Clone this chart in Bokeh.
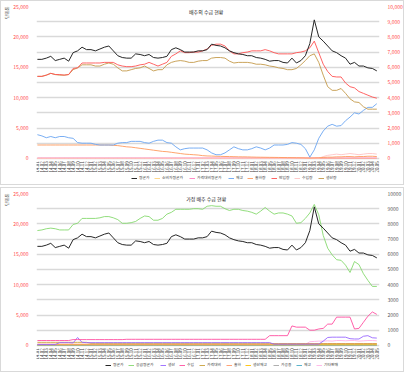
import math
from bokeh.plotting import figure
from bokeh.models import (Range1d, LinearAxis, FixedTicker, Legend, LegendItem,
                          Label, NumeralTickFormatter, Title, ColumnDataSource)
from bokeh.layouts import column
from bokeh.embed import file_html
from bokeh.resources import INLINE
from bokeh.core.properties import value

FONT = "Noto Sans CJK KR"

# ---------------- tick labels (categories) ----------------
months = ["14.01", "14.02", "14.03", "14.04", "14.05", "14.06", "14.07", "14.08", "14.09", "14.10", "14.11", "14.12",
          "15.01", "15.02", "15.03", "15.04", "15.05", "15.06", "15.07", "15.08", "15.09", "15.10", "15.11", "15.12",
          "16.01", "16.02", "16.03", "16.04", "16.05", "16.06", "16.07", "16.08", "16.09", "16.10", "16.11", "16.12",
          "17.01", "17.02", "17.03", "17.04", "17.05", "17.06", "17.07", "17.08", "17.09", "17.10", "17.11", "17.12",
          "18.01", "18.02", "18.03", "18.04", "18.05", "18.06", "18.07", "18.08", "18.09", "18.10", "18.11", "18.12",
          "19.01", "19.02", "19.03", "19.04", "19.05", "19.06", "19.07", "19.08", "19.09", "19.10", "19.11", "19.12",
          "20.01", "20.02", "20.03", "20.04", "20.05"]

# ---------------- chart 1 series ----------------
avg_price = [16300, 16300, 16500, 16800, 16100, 16300, 16500, 16000, 17400, 17700, 18300, 17900, 17900, 17700, 18000, 18300,
             18500, 17700, 16900, 16600, 16500, 16500, 17200, 17100, 16900, 17100, 16600, 16500, 16600, 16800, 17900, 18200,
             17900, 17500, 17500, 17500, 17700, 17700, 17900, 18800, 18600, 18500, 18200, 17700, 17400, 17200, 17100, 16900,
             16900, 16600, 16500, 16300, 16000, 16100, 16100, 15800, 15700, 16500, 15700, 16100, 16900, 18900, 22800, 20000,
             19300, 18500, 17700, 17400, 16900, 16500, 15500, 15800, 15200, 15200, 14900, 14800, 14400]
consumer_avg = [0, 0, 0, 0, 0, 0, 0, 0, 0, 0, 0, 0, 0, 0, 0, 0, 0, 0, 0, 0, 0, 0, 0, 0, 0, 0, 0, 0, 0, 0, 0, 0, 0, 0, 0, 0, 0, 0, 0,
                0, 0, 0, 0, 0, 0, 0, 0, 0, 0, 0, 0, 0, 0, 0, 0, 0, 0, 0, 0, 0, 0, 0, 0, 0, 0, 0, 0, 0, 0, 0, 0, 0, 0, 0, 0, 0, 0]
ratio_avg = [60, 60, 60, 60, 60, 60, 60, 60, 60, 60, 60, 60, 60, 60, 60, 60, 60, 60, 60, 60, 60, 60, 60, 60, 60, 60, 60, 60, 60,
             60, 60, 60, 60, 60, 60, 60, 60, 60, 60, 60, 60, 60, 60, 60, 60, 60, 60, 60, 60, 60, 60, 60, 60, 60, 60, 60, 60, 60,
             60, 60, 60, 60, 60, 60, 60, 60, 60, 60, 60, 60, 60, 60, 60, 60, 60, 60, 60]
stock = [3900, 3700, 3400, 3600, 3400, 3600, 3600, 3400, 3300, 2600, 2500, 2500, 2500, 2300, 2200, 2200, 2200, 2200, 2500, 2600,
         2600, 2800, 2800, 2800, 2600, 2500, 2800, 3000, 3000, 2600, 2500, 1900, 1400, 1600, 1700, 1700, 1700, 1700, 1400, 900,
         600, 600, 900, 1400, 1900, 1600, 1400, 1400, 1600, 1900, 1700, 1400, 1700, 2200, 2200, 2200, 2300, 2600, 2500, 2300,
         1600, 200, 1400, 3300, 4500, 5300, 5600, 5300, 5400, 6200, 6800, 7500, 7300, 7900, 8400, 8400, 9000]
shipment = [2200, 2200, 2200, 2200, 2200, 2200, 2200, 2200, 2200, 2200, 2200, 2200, 2200, 2200, 2200, 2200, 2200, 2150, 2100,
            2000, 1900, 1850, 1750, 1650, 1550, 1450, 1350, 1250, 1150, 1100, 1000, 900, 800, 700, 650, 600, 550, 450, 400,
            380, 350, 330, 310, 300, 280, 260, 250, 240, 220, 200, 190, 180, 170, 160, 150, 140, 130, 120, 110, 100, 80, 60,
            80, 100, 150, 200, 200, 250, 250, 300, 300, 250, 300, 300, 350, 350, 300]
inflow = [13500, 13500, 13700, 14000, 13800, 13800, 13700, 13800, 14800, 14900, 15700, 15700, 15700, 15700, 15700, 15800,
          15800, 15800, 15400, 15200, 15100, 15100, 15200, 15400, 15500, 15800, 15500, 15200, 15500, 15800, 16800, 17200,
          17700, 17400, 17400, 17500, 17500, 17700, 18000, 18600, 18800, 18800, 18500, 17700, 17200, 17200, 17400, 17500,
          17700, 17700, 17700, 17900, 17700, 17400, 17200, 17200, 17200, 17200, 17400, 17500, 17700, 18200, 19300, 17400,
          15500, 14300, 13500, 13400, 13400, 12400, 11800, 11600, 11000, 10700, 10400, 10100, 9900]
imports = [0, 0, 0, 0, 0, 0, 0, 0, 0, 0, 0, 0, 0, 0, 0, 0, 0, 0, 0, 0, 0, 0, 0, 0, 0, 0, 0, 0, 0, 0, 0, 0, 0, 0, 0, 0, 0, 0, 0,
           0, 0, 0, 0, 0, 0, 0, 0, 0, 0, 0, 0, 0, 0, 0, 0, 0, 0, 0, 0, 0, 0, 0, 0, 0, 300, 500, 600, 700, 600, 700, 800, 700,
           600, 700, 800, 800, 700]
production = [13500, 13500, 13700, 14000, 13800, 13700, 13700, 13800, 14600, 14900, 15400, 15400, 15400, 15200, 15200, 15500,
              15700, 15500, 14900, 14400, 14400, 14600, 14800, 14900, 15200, 14800, 14400, 14600, 14600, 15400, 15800, 16000,
              16100, 16000, 15800, 15800, 16000, 16100, 16100, 16500, 16600, 16600, 16500, 16000, 15700, 15800, 15800, 15800,
              15700, 15500, 15500, 15400, 15200, 15100, 14900, 14800, 14600, 14600, 14800, 15400, 16100, 16900, 17200, 15800,
              13700, 11800, 11200, 11200, 11500, 10700, 9800, 9300, 9200, 8500, 8100, 8100, 8100]

# ---------------- chart 2 series ----------------
supply_avg = [18900, 19000, 19200, 19300, 19200, 19000, 19000, 19000, 19900, 20100, 20900, 20900, 20900, 20900, 21000, 21200,
              21200, 21000, 20700, 20100, 20100, 20200, 20400, 20900, 21300, 21200, 20600, 20600, 20900, 21600, 21900, 22400,
              22400, 22400, 22400, 22500, 22500, 22400, 22900, 23000, 22900, 22900, 22500, 22200, 22400, 22400, 22200, 22100,
              21900, 21600, 22100, 22700, 22100, 21600, 21800, 21800, 21600, 21300, 20100, 20200, 20900, 21800, 23200, 21500,
              18100, 16000, 14900, 14100, 14000, 13200, 12000, 13800, 13300, 11800, 10700, 9700, 9700]
produce2 = [150, 150, 150, 150, 150, 450, 450, 450, 400, 1300, 500, 450, 450, 450, 450, 450, 450, 450, 450, 450, 450, 450, 450,
            450, 450, 450, 450, 450, 450, 450, 450, 450, 450, 450, 450, 450, 450, 450, 450, 450, 450, 450, 450, 450, 450, 450,
            450, 450, 450, 450, 450, 450, 450, 200, 200, 200, 200, 200, 200, 200, 200, 200, 200, 200, 700, 1300, 1350, 1350,
            1350, 1350, 1100, 1050, 1050, 1500, 1600, 1250, 1200]
import2 = [800, 800, 800, 800, 800, 800, 800, 800, 950, 950, 950, 950, 950, 950, 950, 950, 950, 950, 950, 950, 1000, 1000, 1000,
           1000, 1000, 1000, 1000, 1000, 1000, 1000, 1000, 1000, 1000, 1000, 1000, 1000, 1000, 1000, 1000, 1000, 1000, 1000,
           1000, 1000, 1000, 1000, 1000, 1000, 1000, 1000, 1000, 1000, 1600, 1600, 1600, 1600, 1600, 3200, 3000, 3000, 3000,
           2500, 2500, 2700, 2800, 3500, 3500, 4650, 4650, 4650, 4650, 2700, 2800, 3800, 4800, 5500, 5100]
ratio2 = [500, 500, 500, 500, 500, 500, 500, 500, 500, 500, 500, 500, 350, 350, 350, 350, 350, 350, 350, 350, 350, 350, 350, 350,
          350, 350, 350, 350, 350, 350, 350, 350, 350, 350, 350, 350, 350, 350, 350, 350, 350, 350, 350, 350, 350, 350, 350,
          350, 350, 350, 350, 350, 350, 250, 250, 250, 250, 250, 250, 250, 250, 250, 250, 250, 250, 250, 250, 250, 250, 250,
          250, 250, 250, 250, 250, 250, 250]
ship2 = [200, 200, 200, 200, 200, 200, 200, 200, 200, 200, 200, 200, 200, 200, 200, 200, 200, 200, 200, 200, 200, 200, 200, 200,
         200, 200, 200, 200, 200, 200, 200, 200, 200, 200, 200, 200, 200, 200, 200, 200, 200, 200, 200, 200, 200, 200, 200, 200,
         200, 200, 200, 200, 200, 300, 300, 300, 300, 300, 300, 300, 300, 300, 300, 300, 300, 300, 300, 300, 300, 300, 300, 300,
         300, 300, 300, 300, 300]
stock_prod2 = [100, 100, 100, 100, 100, 100, 100, 100, 100, 100, 100, 100, 100, 100, 100, 100, 100, 100, 100, 100, 100, 100, 100,
               100, 100, 100, 100, 100, 100, 100, 100, 100, 100, 100, 100, 100, 100, 100, 100, 100, 100, 100, 100, 100, 100, 100,
               100, 100, 100, 100, 100, 100, 100, 100, 100, 100, 100, 100, 100, 100, 100, 100, 100, 100, 100, 100, 100, 100, 100,
               100, 100, 100, 100, 100, 100, 100, 100]
process2 = [50, 50, 50, 50, 50, 50, 50, 50, 50, 50, 50, 50, 50, 50, 50, 50, 50, 50, 50, 50, 50, 50, 50, 50, 50, 50, 50, 50, 50,
            50, 50, 50, 50, 50, 50, 50, 50, 50, 50, 50, 50, 50, 50, 50, 50, 50, 50, 50, 50, 50, 50, 50, 50, 50, 50, 50, 50, 50,
            50, 50, 50, 50, 50, 50, 50, 50, 50, 50, 50, 50, 50, 50, 50, 50, 50, 50, 50]
stock2 = [20, 20, 20, 20, 20, 20, 20, 20, 20, 20, 20, 20, 20, 20, 20, 20, 20, 20, 20, 20, 20, 20, 20, 20, 20, 20, 20, 20, 20, 20,
          20, 20, 20, 20, 20, 20, 20, 20, 20, 20, 20, 20, 20, 20, 20, 20, 20, 20, 20, 20, 20, 20, 20, 20, 20, 20, 20, 20, 20, 20,
          20, 20, 20, 20, 20, 20, 20, 20, 20, 20, 20, 20, 20, 20, 20, 20, 20]
etc2 = [150, 150, 150, 150, 150, 150, 150, 150, 150, 150, 150, 150, 150, 150, 150, 150, 150, 150, 150, 150, 150, 150, 150, 150,
        150, 150, 150, 150, 150, 150, 150, 150, 150, 150, 150, 150, 150, 150, 150, 150, 150, 150, 150, 150, 150, 150, 150, 150,
        150, 150, 150, 150, 150, 150, 150, 150, 150, 150, 150, 150, 150, 600, 650, 700, 700, 750, 700, 800, 800, 750, 800, 800,
        700, 750, 800, 800, 750]

idx = list(range(len(months)))

left_ticks = [0, 5000, 10000, 15000, 20000, 25000]
grid_ticks = [0, 2500, 5000, 7500, 10000, 12500, 15000, 17500, 20000, 22500, 25000]
right_ticks = [0, 1000, 2000, 3000, 4000, 5000, 6000, 7000, 8000, 9000, 10000]

chart1 = [("평균가", avg_price, "#262626", 1.0),
          ("소비자평균가", consumer_avg, "#ffd27f", 0.9),
          ("가격대비평균가", ratio_avg, "#ff7fbf", 0.9),
          ("재고", stock, "#6aa5f2", 0.9),
          ("출하량", shipment, "#ff9a5c", 0.9),
          ("반입량", inflow, "#ff5252", 0.9),
          ("수입량", imports, "#ffc4c4", 0.9),
          ("생산량", production, "#c49a4a", 0.9)]

chart2 = [("평균가", avg_price, "#262626", 1.0),
          ("공급평균가", supply_avg, "#86d96e", 0.9),
          ("생산", produce2, "#9966ff", 0.9),
          ("수입", import2, "#ff4fa0", 0.9),
          ("가격대비", ratio2, "#c9a13c", 0.9),
          ("출하", ship2, "#ff9966", 0.9),
          ("생산재고", stock_prod2, "#ffc000", 0.9),
          ("가공용", process2, "#a6a6a6", 0.9),
          ("재고", stock2, "#4bacc6", 0.9),
          ("기타판매", etc2, "#ffb3e6", 0.9)]

# the frame extends below zero to host the rotated category labels and the legend
Y_BOTTOM = -4300
R_BOTTOM = Y_BOTTOM * 10000 / 25000

LEG_FONT = 3.8
GLYPH_W = 6
STANDOFF = 2
GAP = 4


def make_chart(title, series, right_fmt, right_color, draw_order, leg_center):
    p = figure(width=404, height=185, output_backend="svg", toolbar_location=None,
               x_range=Range1d(-0.2, 76.6), y_range=Range1d(Y_BOTTOM, 25000),
               min_border_left=21, min_border_right=16, min_border_top=5, min_border_bottom=2,
               background_fill_color="white", border_fill_color="white")
    p.outline_line_color = None
    p.xgrid.visible = False
    p.xaxis.visible = False
    p.ygrid.ticker = FixedTicker(ticks=grid_ticks)
    p.ygrid.grid_line_color = "#d9d9d9"
    p.ygrid.grid_line_width = 1.3

    ax = p.yaxis[0]
    ax.ticker = FixedTicker(ticks=left_ticks)
    ax.formatter = NumeralTickFormatter(format="0,0")
    ax.major_label_text_font = FONT
    ax.major_label_text_font_size = "5px"
    ax.major_label_text_color = "#ff4a4a"
    ax.axis_line_color = None
    ax.major_tick_line_color = None
    ax.minor_tick_line_color = None
    ax.major_label_standoff = 2

    p.extra_y_ranges = {"r": Range1d(R_BOTTOM, 10000)}
    rax = LinearAxis(y_range_name="r", ticker=FixedTicker(ticks=right_ticks),
                     formatter=NumeralTickFormatter(format=right_fmt))
    rax.major_label_text_font = FONT
    rax.major_label_text_font_size = "5px"
    rax.major_label_text_color = right_color
    rax.axis_line_color = None
    rax.major_tick_line_color = None
    rax.minor_tick_line_color = None
    rax.major_label_standoff = 2
    p.add_layout(rax, "right")

    p.add_layout(Title(text="단위:톤", align="right", text_font=FONT, text_font_size="4px",
                       text_font_style="normal", text_color="#404040", standoff=1), "left")

    renderers = {}
    for k in draw_order:
        name, vals, col, lw = series[k]
        renderers[k] = p.line(idx, vals, line_color=col, line_width=lw)

    # category labels (rotated), hanging under the zero line
    src = ColumnDataSource(dict(x=idx, y=[0] * len(idx), t=months))
    p.text(x="x", y="y", text="t", source=src, angle=math.pi / 2, text_align="right",
           text_baseline="middle", y_offset=3, text_font=value(FONT), text_font_size="4.5px",
           text_color="#404040")

    # one small legend per entry so that entries are packed by their own width
    widths = [GLYPH_W + STANDOFF + len(s[0]) * LEG_FONT + GAP for s in series]
    cursor = leg_center - sum(widths) / 2
    for k in range(len(series)):
        leg = Legend(items=[LegendItem(label=value(series[k][0]), renderers=[renderers[k]])],
                     location=(int(round(cursor)), 4), orientation="horizontal",
                     label_text_font=FONT, label_text_font_size=f"{LEG_FONT}px", label_text_color="#404040",
                     glyph_width=GLYPH_W, glyph_height=4, label_standoff=STANDOFF, spacing=0, padding=0,
                     margin=0, label_width=1, label_height=4, border_line_color=None,
                     background_fill_alpha=0)
        p.add_layout(leg, "center")
        cursor += widths[k]

    p.add_layout(Label(x=37.8, y=25000, text=title, text_font=FONT, text_font_size="5px",
                       text_color="#262626", text_align="center", text_baseline="top", y_offset=-1))
    p.styles = {"border": "1px solid #d9d9d9", "box-sizing": "border-box"}
    return p


p1 = make_chart("배추의 수급 현황", chart1, "0,0", "#ff4a4a", [1, 2, 6, 4, 3, 7, 5, 0], 200)
p2 = make_chart("가정 배추 수급 현황", chart2, "0", "#595959", [9, 8, 7, 6, 5, 4, 2, 3, 1, 0], 188)

layout = column(p1, p2, spacing=2)
open("out.html", "w").write(file_html(layout, INLINE))
